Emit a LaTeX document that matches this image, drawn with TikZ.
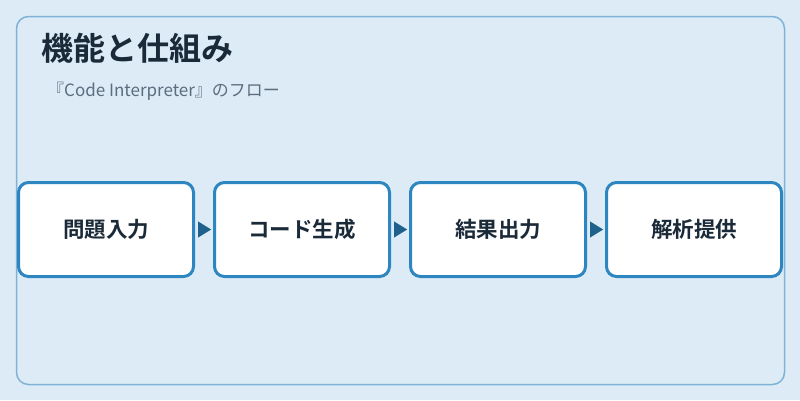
\documentclass[tikz,border=0pt]{standalone}
\usepackage{fontspec}
\newfontfamily\jpfont{Noto Sans CJK JP}
\newfontfamily\jpbold{Noto Sans CJK JP Bold}
\usetikzlibrary{arrows.meta}
\definecolor{pagebg}{HTML}{DCEBF6}
\definecolor{panelline}{HTML}{7FB3D5}
\definecolor{stepline}{HTML}{2E86C1}
\definecolor{arrowblue}{HTML}{1F618D}
\definecolor{titletext}{HTML}{1B2A38}
\definecolor{subtext}{HTML}{5D6D7E}

\begin{document}
\begin{tikzpicture}[
    x=1pt, y=-1pt,
    panel/.style={draw=panelline, line width=1.5pt, rounded corners=12pt},
    stepbox/.style={rectangle, draw=stepline, line width=3pt, fill=white, rounded corners=10pt, minimum width=175pt, minimum height=94pt, align=center, text=titletext, font=\jpbold\fontsize{21.5}{26}\selectfont},
    flow/.style={-{Triangle[length=13pt,width=16pt]}, arrowblue, line width=0.1pt, shorten <=3pt, shorten >=2pt}
]

% Background
\fill[pagebg] (0,0) rectangle (800,400);
\useasboundingbox (0,0) rectangle (800,400);
\draw[panel] (16.5,16.5) rectangle (784.5,384.5);

% Heading
\node[anchor=base west, inner sep=0pt, text=titletext, font=\jpbold\fontsize{32}{36}\selectfont] (title) at (41,60) {機能と仕組み};
\node[anchor=base west, inner sep=0pt, text=subtext, font=\jpfont\fontsize{17}{20}\selectfont] (subtitle) at (47,96) {『Code Interpreter』のフロー};

% Steps
\node[stepbox] (input) at (106,229.5) {問題入力};
\node[stepbox] (code) at (302,229.5) {コード生成};
\node[stepbox] (result) at (498,229.5) {結果出力};
\node[stepbox] (analysis) at (694,229.5) {解析提供};

% Flow
\draw[flow] (input) -- (code);
\draw[flow] (code) -- (result);
\draw[flow] (result) -- (analysis);

\end{tikzpicture}
\end{document}
